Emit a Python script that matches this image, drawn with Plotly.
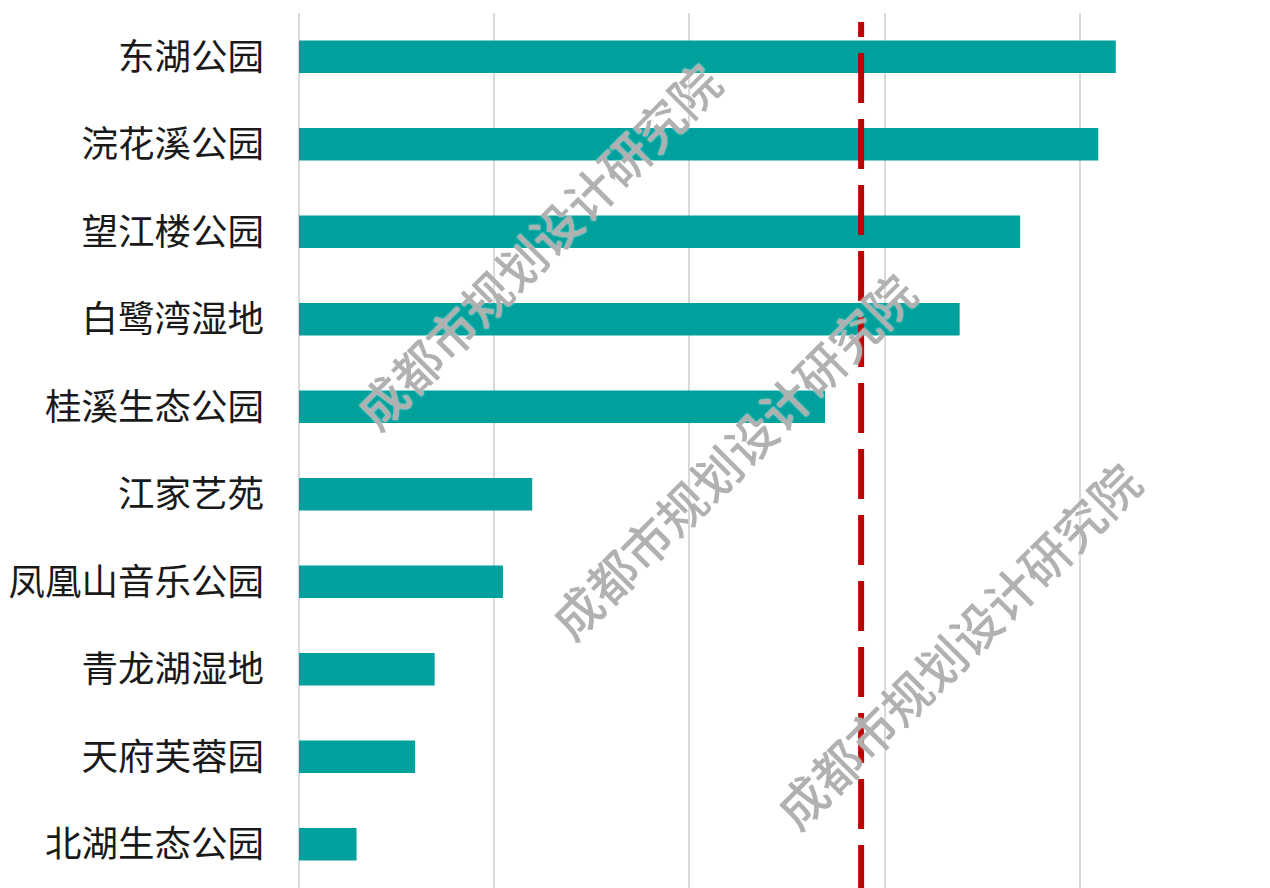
import plotly.graph_objects as go

# Park names (top to bottom) and their values
parks = ["东湖公园", "浣花溪公园", "望江楼公园", "白鹭湾湿地", "桂溪生态公园",
         "江家艺苑", "凤凰山音乐公园", "青龙湖湿地", "天府芙蓉园", "北湖生态公园"]
values = [83.7, 81.9, 73.9, 67.7, 53.9, 23.9, 20.9, 13.9, 11.9, 5.9]

# Reference level drawn as a dashed vertical line
reference_value = 57.6

# Watermark positions (x in data units, y in paper units)
watermark_text = "成都市规划设计研究院"
watermark_x = [24.4, 44.4, 67.4]
watermark_y = [0.735, 0.495, 0.278]

BAR_COLOR = "#00A19C"
LINE_COLOR = "#C00000"
FONT = "Noto Sans CJK SC"

fig = go.Figure()
fig.add_trace(go.Bar(
    x=values,
    y=parks,
    orientation="h",
    width=0.37,
    marker=dict(color=BAR_COLOR, line=dict(width=0)),
    hoverinfo="x+y",
))

fig.add_shape(
    type="line",
    xref="x", yref="paper",
    x0=reference_value, x1=reference_value,
    y0=-0.008, y1=0.9897,
    line=dict(color=LINE_COLOR, width=6, dash="50px,16px"),
    layer="above",
)

for wx, wy in zip(watermark_x, watermark_y):
    fig.add_annotation(
        x=wx, y=wy, xref="x", yref="paper",
        xanchor="center", yanchor="middle",
        text=watermark_text,
        textangle=-45,
        showarrow=False,
        font=dict(family=FONT, size=49, weight=500,
                  color="rgba(170,170,170,0.92)",
                  shadow="0px 0px 2px white"),
    )

fig.update_layout(
    width=1270, height=888,
    margin=dict(l=299, r=0, t=13, b=0),
    paper_bgcolor="white",
    plot_bgcolor="white",
    showlegend=False,
    bargap=0.63,
    font=dict(family=FONT, color="#1a1a1a"),
)

fig.update_xaxes(
    range=[0, 99.5],
    tickvals=[0, 20, 40, 60, 80],
    showticklabels=False,
    showgrid=True,
    gridcolor="#d9d9d9",
    gridwidth=2,
    zeroline=True,
    zerolinecolor="#d9d9d9",
    zerolinewidth=2,
    showline=False,
    fixedrange=True,
)

fig.update_yaxes(
    autorange="reversed",
    tickfont=dict(family=FONT, size=36.5, color="#1a1a1a"),
    ticklabelstandoff=34,
    showgrid=False,
    zeroline=False,
    showline=False,
    ticks="",
    fixedrange=True,
)

fig.write_html("out.html")
